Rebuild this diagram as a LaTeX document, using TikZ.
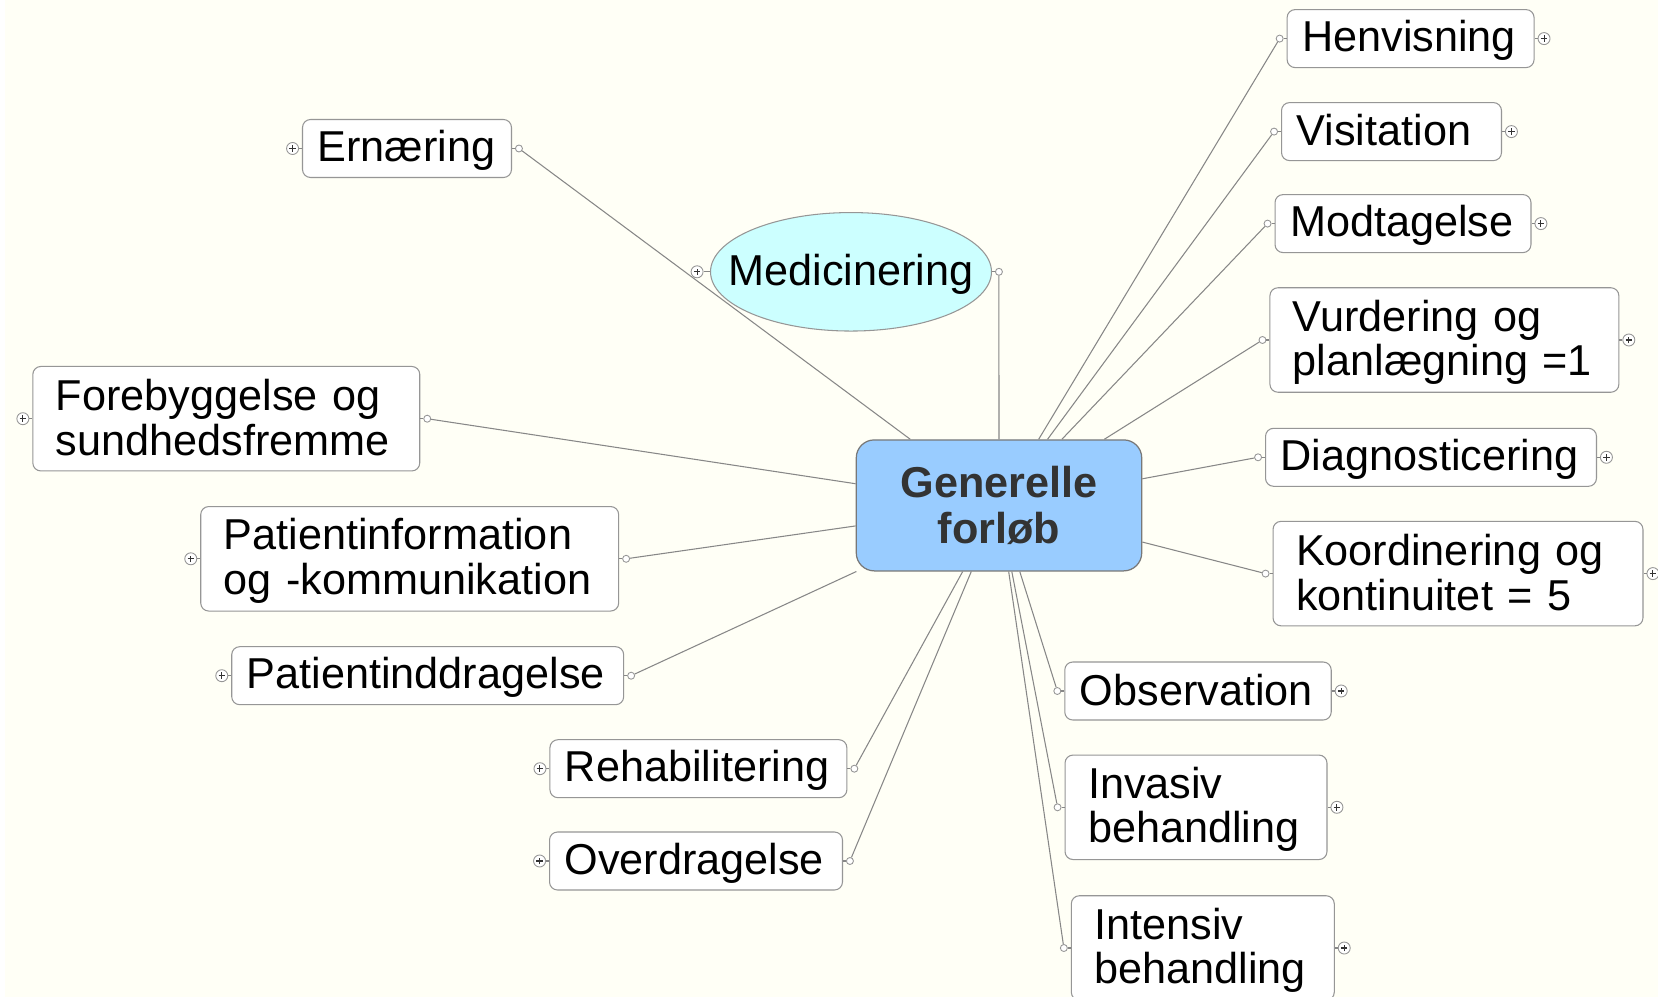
\documentclass[tikz,border=0pt]{standalone}
\usepackage{fontspec}
\setmainfont{Liberation Sans}
\usepackage{tikz}
\usetikzlibrary{positioning}
\usetikzlibrary{shapes.geometric}

\definecolor{bgcol}{RGB}{255,255,246}
\definecolor{hubblue}{RGB}{153,204,255}
\definecolor{ovalcyan}{RGB}{204,255,255}
\definecolor{hubtext}{RGB}{51,51,51}
\definecolor{rimgray}{RGB}{150,150,150}
\definecolor{linegray}{RGB}{135,135,135}
\newcommand{\tstrut}{\rule[-0.16em]{0pt}{0.98em}}

\begin{document}
\begin{tikzpicture}[x=0.02cm,y=-0.02cm,
        box/.style={draw=rimgray, fill=white, line width=0.6pt, rounded corners=0.16cm,
            font=\fontsize{24.6}{25.3}\selectfont, align=left,
            inner xsep=0.3cm, inner ysep=2pt, minimum height=1.16cm},
        twoline/.style={minimum height=2.09cm, inner xsep=0.46cm},
        hub/.style={draw=rimgray!80!black, fill=hubblue, line width=0.7pt, rounded corners=0.36cm,
            minimum width=5.71cm, minimum height=2.62cm, align=center, text=hubtext,
            font=\bfseries\fontsize{24.6}{26.5}\selectfont},
        oval/.style={ellipse, draw=rimgray, fill=ovalcyan, line width=0.6pt, inner sep=0pt,
            minimum width=5.62cm, minimum height=2.37cm, font=\fontsize{24.6}{25.3}\selectfont},
        dot/.style={circle, draw=rimgray, fill=white, line width=0.5pt, minimum size=0.14cm, inner sep=0pt},
        plusmark/.style={circle, draw=rimgray, fill=white, line width=0.5pt, minimum size=0.24cm, inner sep=0pt,
            path picture={\draw[black!80, line width=0.6pt]
                ([xshift=-0.065cm]path picture bounding box.center) -- ([xshift=0.065cm]path picture bounding box.center)
                ([yshift=-0.065cm]path picture bounding box.center) -- ([yshift=0.065cm]path picture bounding box.center);}},
        link/.style={draw=linegray, line width=0.6pt}]

    % canvas
    \useasboundingbox (0,0) rectangle (1658,997);
    \fill[bgcol] (0,0) rectangle (1658,997);
    \fill[white] (0,0) rectangle (5,997);

    % centre
    \node[hub] (gf) at (999,505.4) {Generelle\\forløb};

    % right side
    \node[box, text width=4.34cm] (hen) at (1410.6,38.6) {\tstrut Henvisning};
    \node[box, text width=3.80cm] (vis) at (1391.5,131.6) {\tstrut Visitation};
    \node[box, text width=4.52cm] (mod) at (1403,223.6) {\tstrut Modtagelse};
    \node[box, twoline, text width=6.06cm] (vur) at (1444.4,340) {\tstrut Vurdering og\\\tstrut planlægning =1};
    \node[box, text width=6.02cm] (dia) at (1431,457.3) {\tstrut Diagnosticering};
    \node[box, twoline, text width=6.48cm] (koo) at (1458,573.6) {\tstrut Koordinering og\\\tstrut kontinuitet = 5};
    \node[box, text width=4.73cm] (obs) at (1198,691) {\tstrut Observation};
    \node[box, twoline, text width=4.32cm] (inv) at (1196,807.3) {\tstrut Invasiv\\\tstrut behandling};
    \node[box, twoline, text width=4.34cm] (int) at (1202.8,948) {\tstrut Intensiv\\\tstrut behandling};

    % left side
    \node[box, text width=5.26cm] (ove) at (696,861) {\tstrut Overdragelse};
    \node[box, text width=5.34cm] (reh) at (698.4,768.7) {\tstrut Rehabilitering};
    \node[box, text width=7.24cm] (pin) at (427.7,675.7) {\tstrut Patientinddragelse};
    \node[box, twoline, text width=7.44cm] (pik) at (409.7,558.8) {\tstrut Patientinformation\\\tstrut og -kommunikation};
    \node[box, twoline, text width=6.82cm] (fore) at (226.3,418.7) {\tstrut Forebyggelse og\\\tstrut sundhedsfremme};
    \node[box, text width=3.58cm] (ern) at (407,148.5) {\tstrut Ernæring};
    \node[oval] (med) at (851,271.8) {\makebox[0pt]{\tstrut Medicinering}};

    % markers and links
    \foreach \n in {hen,vis,mod,vur,dia,koo,obs,inv,int}{
        \node[dot, left=0.06cm of \n] (\n-d) {};
        \node[plusmark, right=0.06cm of \n] (\n-p) {};
        \draw[link] (\n-d) -- (\n);
        \draw[link] (\n-p) -- (\n);
        \draw[link] (gf) -- (\n-d);
    }
    \foreach \n in {ove,reh,pin,pik,fore,ern}{
        \node[dot, right=0.06cm of \n] (\n-d) {};
        \node[plusmark, left=0.06cm of \n] (\n-p) {};
        \draw[link] (\n-d) -- (\n);
        \draw[link] (\n-p) -- (\n);
        \draw[link] (gf) -- (\n-d);
    }
    \node[dot, right=0.06cm of med] (med-d) {};
    \node[plusmark, left=0.13cm of med] (med-p) {};
    \draw[link] (med-d) -- (med);
    \draw[link] (med-p) -- (med);
    \draw[link] (gf) -- (med-d);
\end{tikzpicture}
\end{document}
